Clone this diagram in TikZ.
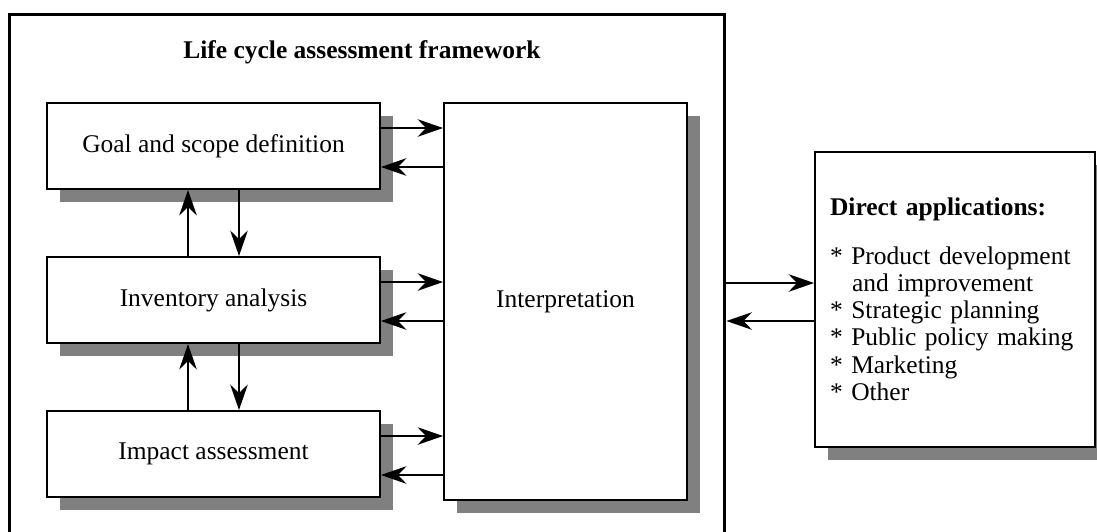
\documentclass[tikz,border=0pt]{standalone}
\usepackage{fontspec}
\setmainfont{Liberation Serif}
\usetikzlibrary{arrows.meta,shadows}

\tikzset{
  frame/.style={draw, line width=1.7pt, minimum width=14.32cm, minimum height=10.92cm},
  box/.style={draw, line width=1.1pt, fill=white, align=center,
    drop shadow={shadow xshift=0.26cm, shadow yshift=-0.26cm, fill=gray, opacity=1}},
  stage/.style={box, minimum width=6.66cm, minimum height=1.72cm},
  link/.style={line width=1.1pt, -{Stealth[length=14.5pt,width=10pt,inset=4.8pt]}}
}

\begin{document}
\begin{tikzpicture}[x=0.02cm, y=-0.02cm, font=\fontsize{14.5}{15.5}\selectfont]
  \clip (0,0) rectangle (1097,531);

  % Framework
  \node[frame] (lca) at (367,287) {};
  \node[font=\fontsize{14.5}{15.5}\selectfont\bfseries] (title) at (362,52) {Life cycle assessment framework};

  % Stages
  \node[stage] (goal) at (213.5,146) {Goal and scope definition};
  \node[stage] (inventory) at (213.5,300) {Inventory analysis};
  \node[stage] (impact) at (213.5,454) {Impact assessment};
  \node[box, minimum width=4.86cm, minimum height=7.94cm] (interp) at (565.5,301.5) {Interpretation};

  % Applications
  \node[box, text width=5cm, align=left, inner xsep=0.3cm, minimum height=5.9cm] (apps) at (955,299.5)
    {\textbf{Direct applications:}\\[12pt]
     {*} Product development\\
     \hspace*{12.5pt}and improvement\\
     {*} Strategic planning\\
     {*} Public policy making\\
     {*} Marketing\\
     {*} Other};

  % Stages <-> interpretation
  \foreach \s in {goal,inventory,impact}{
    \draw[link] ([yshift=0.36cm]\s.east) -- ([yshift=0.36cm]\s.east -| interp.west);
    \draw[link] ([yshift=-0.42cm]\s.east -| interp.west) -- ([yshift=-0.42cm]\s.east);
  }

  % Between stages
  \draw[link] ([xshift=-0.51cm]inventory.north) -- ([xshift=-0.51cm]goal.south);
  \draw[link] ([xshift=0.51cm]goal.south) -- ([xshift=0.51cm]inventory.north);
  \draw[link] ([xshift=-0.51cm]impact.north) -- ([xshift=-0.51cm]inventory.south);
  \draw[link] ([xshift=0.51cm]inventory.south) -- ([xshift=0.51cm]impact.north);

  % Framework <-> applications
  \draw[link] ([yshift=0.33cm]apps.west -| lca.east) -- ([yshift=0.33cm]apps.west);
  \draw[link] ([yshift=-0.43cm]apps.west) -- ([yshift=-0.43cm]apps.west -| lca.east);
\end{tikzpicture}
\end{document}
